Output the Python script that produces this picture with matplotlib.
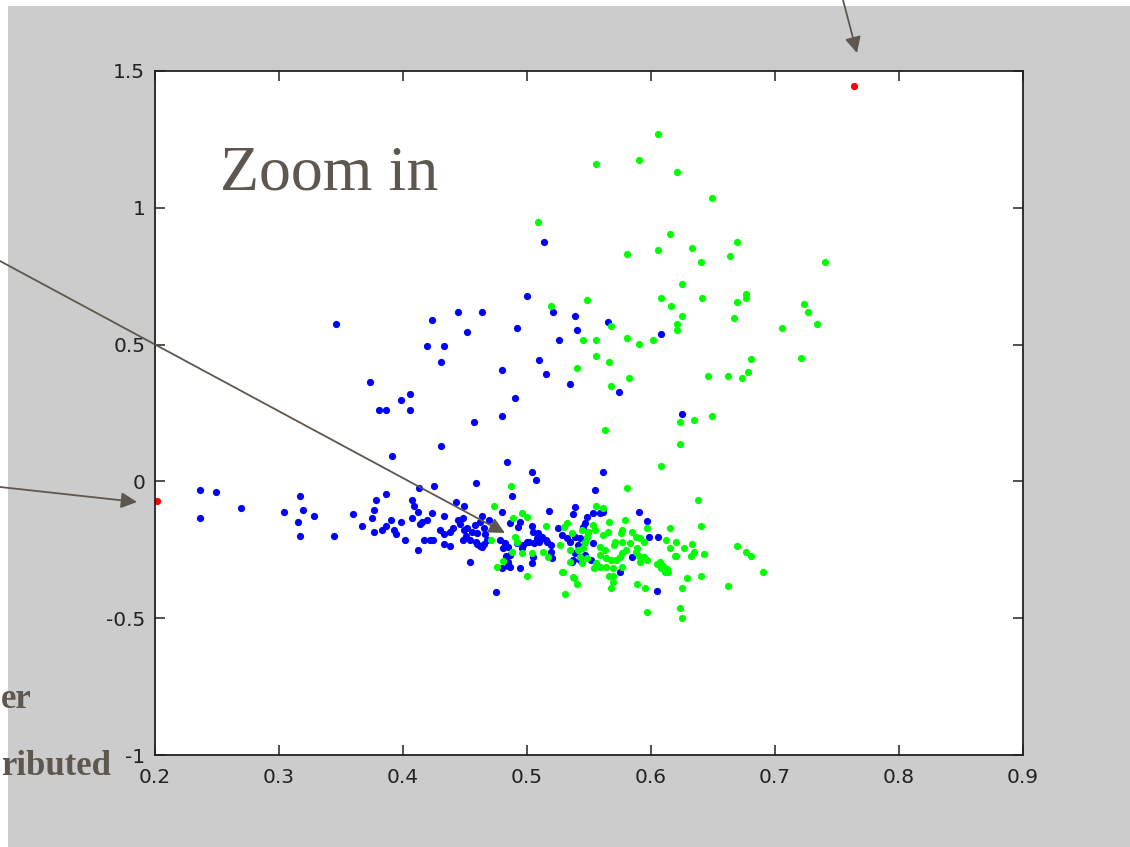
import matplotlib
matplotlib.use("Agg")
import matplotlib.pyplot as plt
from matplotlib.patches import Rectangle, FancyArrowPatch

# Point data (x = first feature, y = second feature)
blue_x = [
    0.346, 0.373, 0.398, 0.406, 0.381, 0.386, 0.406, 0.391, 0.419, 0.423, 0.433, 0.431,
    0.444, 0.452, 0.464, 0.431, 0.457, 0.459, 0.480, 0.480, 0.490, 0.484, 0.492, 0.500,
    0.504, 0.507, 0.510, 0.514, 0.515, 0.521, 0.526, 0.535, 0.539, 0.540, 0.561, 0.565,
    0.574, 0.608, 0.625, 0.555,
    0.236, 0.249, 0.236, 0.269, 0.304, 0.317, 0.319, 0.315, 0.328, 0.317, 0.344, 0.360,
    0.367, 0.375, 0.377, 0.378, 0.386, 0.377, 0.383, 0.386, 0.390, 0.393, 0.394, 0.398,
    0.402, 0.407, 0.409, 0.412, 0.407, 0.415, 0.414, 0.419, 0.423, 0.412, 0.417, 0.422,
    0.424, 0.413, 0.425, 0.433, 0.430, 0.433, 0.438, 0.440, 0.433, 0.438, 0.443, 0.449,
    0.444, 0.448, 0.446, 0.449, 0.452, 0.456, 0.451, 0.448, 0.454, 0.454, 0.464, 0.462,
    0.459, 0.462, 0.460, 0.465, 0.469, 0.465, 0.480, 0.488, 0.475, 0.480, 0.485, 0.483,
    0.494, 0.458, 0.460, 0.466, 0.468, 0.464,
    0.518, 0.539, 0.537, 0.548, 0.486, 0.494, 0.493, 0.504, 0.505, 0.509, 0.512, 0.508,
    0.515, 0.516, 0.510, 0.506, 0.502, 0.519, 0.525, 0.528, 0.532, 0.535, 0.539, 0.543,
    0.547, 0.541, 0.478, 0.482, 0.481, 0.485, 0.492, 0.496, 0.497, 0.500, 0.519, 0.520,
    0.505, 0.504, 0.539, 0.547, 0.543, 0.537, 0.486, 0.485, 0.486,
    0.553, 0.559, 0.561, 0.590, 0.597, 0.547, 0.545, 0.549, 0.598, 0.606, 0.553, 0.585,
    0.552, 0.575, 0.605, 0.536,
]
blue_y = [
    0.575, 0.363, 0.298, 0.319, 0.261, 0.261, 0.261, 0.093, 0.495, 0.590, 0.495, 0.436,
    0.619, 0.546, 0.619, 0.129, 0.217, -0.006, 0.407, 0.239, 0.305, 0.071, 0.561, 0.678,
    0.034, 0.005, 0.444, 0.875, 0.393, 0.619, 0.517, 0.356, 0.604, 0.553, 0.034, 0.583,
    0.327, 0.539, 0.246, -0.031,
    -0.031, -0.039, -0.134, -0.097, -0.112, -0.053, -0.104, -0.148, -0.126, -0.200, -0.200, -0.119,
    -0.163, -0.134, -0.104, -0.068, -0.046, -0.185, -0.178, -0.163, -0.141, -0.178, -0.192, -0.148,
    -0.214, -0.068, -0.090, -0.112, -0.134, -0.148, -0.156, -0.141, -0.115, -0.251, -0.214, -0.214,
    -0.214, -0.024, -0.017, -0.126, -0.178, -0.192, -0.185, -0.170, -0.229, -0.236, -0.075, -0.090,
    -0.141, -0.134, -0.156, -0.178, -0.170, -0.185, -0.200, -0.214, -0.214, -0.295, -0.126, -0.148,
    -0.221, -0.236, -0.229, -0.229, -0.141, -0.170, -0.112, -0.053, -0.404, -0.317, -0.309, -0.273,
    -0.317, -0.159, -0.189, -0.192, -0.214, -0.240,
    -0.108, -0.093, -0.119, -0.130, -0.152, -0.148, -0.167, -0.163, -0.185, -0.189, -0.203, -0.207,
    -0.214, -0.221, -0.221, -0.225, -0.221, -0.232, -0.170, -0.196, -0.207, -0.221, -0.203, -0.207,
    -0.221, -0.232, -0.214, -0.225, -0.243, -0.240, -0.225, -0.243, -0.232, -0.221, -0.258, -0.280,
    -0.276, -0.298, -0.262, -0.269, -0.287, -0.287, -0.269, -0.295, -0.313,
    -0.115, -0.115, -0.112, -0.112, -0.145, -0.152, -0.167, -0.185, -0.203, -0.203, -0.225, -0.276,
    -0.287, -0.331, -0.400, -0.295,
]

green_x = [
    0.509, 0.556, 0.590, 0.606, 0.621, 0.649, 0.615, 0.581, 0.606, 0.633, 0.640, 0.664,
    0.669, 0.740, 0.625, 0.519, 0.548, 0.545, 0.556, 0.568, 0.608, 0.616, 0.625, 0.621,
    0.621, 0.641, 0.669, 0.677, 0.677, 0.667, 0.581, 0.590, 0.602, 0.706, 0.723, 0.727,
    0.734, 0.556, 0.566, 0.681, 0.721, 0.540, 0.582, 0.568, 0.646, 0.662, 0.673, 0.678,
    0.563, 0.623, 0.635, 0.649, 0.623, 0.608, 0.581, 0.638, 0.487, 0.473, 0.640,
    0.489, 0.496, 0.500, 0.515, 0.532, 0.530, 0.536, 0.544, 0.549, 0.471, 0.490, 0.492,
    0.488, 0.496, 0.504, 0.513, 0.527, 0.535, 0.541, 0.545, 0.481, 0.476, 0.500, 0.517,
    0.529, 0.537, 0.535, 0.544, 0.548,
    0.556, 0.561, 0.579, 0.566, 0.615, 0.553, 0.555, 0.565, 0.561, 0.577, 0.576, 0.585,
    0.588, 0.591, 0.594, 0.597, 0.612, 0.620, 0.615, 0.548, 0.547, 0.571, 0.570, 0.559,
    0.563, 0.577, 0.583, 0.589, 0.588, 0.543, 0.559, 0.564, 0.568, 0.572, 0.575, 0.577,
    0.580, 0.556, 0.559, 0.564, 0.569, 0.577, 0.594, 0.591, 0.597, 0.607, 0.610, 0.613,
    0.614, 0.569, 0.620,
    0.633, 0.627, 0.635, 0.632, 0.643, 0.619, 0.590, 0.669, 0.677, 0.681, 0.690, 0.640,
    0.629, 0.625, 0.662, 0.623, 0.625, 0.597, 0.589, 0.595, 0.568, 0.569, 0.566, 0.605,
    0.608, 0.611, 0.528, 0.538, 0.540, 0.531, 0.554,
]
green_y = [
    0.948, 1.160, 1.175, 1.270, 1.131, 1.036, 0.904, 0.831, 0.846, 0.853, 0.802, 0.824,
    0.875, 0.802, 0.721, 0.641, 0.663, 0.517, 0.517, 0.568, 0.670, 0.641, 0.604, 0.575,
    0.553, 0.670, 0.656, 0.685, 0.670, 0.597, 0.524, 0.502, 0.517, 0.561, 0.648, 0.619,
    0.575, 0.458, 0.436, 0.447, 0.451, 0.414, 0.378, 0.349, 0.385, 0.385, 0.378, 0.400,
    0.188, 0.217, 0.224, 0.239, 0.137, 0.056, -0.024, -0.068, -0.017, -0.090, -0.163,
    -0.134, -0.115, -0.130, -0.163, -0.152, -0.167, -0.189, -0.178, -0.185, -0.214, -0.203, -0.221,
    -0.258, -0.262, -0.262, -0.258, -0.232, -0.251, -0.251, -0.243, -0.291, -0.313, -0.346, -0.276,
    -0.331, -0.349, -0.295, -0.298, -0.280,
    -0.090, -0.097, -0.141, -0.148, -0.170, -0.159, -0.178, -0.185, -0.196, -0.178, -0.189, -0.185,
    -0.203, -0.207, -0.221, -0.170, -0.214, -0.221, -0.243, -0.203, -0.221, -0.221, -0.232, -0.240,
    -0.251, -0.221, -0.225, -0.243, -0.258, -0.276, -0.269, -0.280, -0.287, -0.287, -0.276, -0.262,
    -0.251, -0.298, -0.313, -0.313, -0.317, -0.313, -0.276, -0.295, -0.287, -0.295, -0.309, -0.320,
    -0.331, -0.346, -0.273,
    -0.229, -0.243, -0.258, -0.273, -0.266, -0.273, -0.273, -0.236, -0.258, -0.273, -0.331, -0.346,
    -0.353, -0.390, -0.382, -0.463, -0.499, -0.477, -0.375, -0.390, -0.390, -0.368, -0.346, -0.302,
    -0.317, -0.331, -0.331, -0.353, -0.375, -0.412, -0.317,
]

# the two outliers
red_x = [0.202, 0.764]
red_y = [-0.072, 1.445]

x_ticks = [0.2, 0.3, 0.4, 0.5, 0.6, 0.7, 0.8, 0.9]
x_tick_labels = ["0.2", "0.3", "0.4", "0.5", "0.6", "0.7", "0.8", "0.9"]
y_ticks = [-1, -0.5, 0, 0.5, 1, 1.5]
y_tick_labels = ["-1", "-0.5", "0", "0.5", "1", "1.5"]

W, H = 1130, 847
SLIDE_GRAY = "#cccccc"
NOTE_COLOR = "#5e574f"

fig = plt.figure(figsize=(W / 100, H / 100), dpi=100, facecolor="white")

# slide background (thin white strip on the left and top)
fig.add_artist(Rectangle((8 / W, 0), 1, 1 - 6 / H, transform=fig.transFigure,
                         facecolor=SLIDE_GRAY, edgecolor="none", zorder=-10))

ax = fig.add_axes([155 / W, 92 / H, 868 / W, 684 / H])
ax.set_facecolor("white")

marker_kw = dict(linestyle="none", marker="o", markersize=5.2, markeredgewidth=0)
ax.plot(blue_x, blue_y, color="#0000ff", **marker_kw)
ax.plot(green_x, green_y, color="#00ff00", **marker_kw)
ax.plot(red_x, red_y, color="#ff0000", **marker_kw)

ax.set_xlim(0.2, 0.9)
ax.set_ylim(-1, 1.5)
ax.set_xticks(x_ticks)
ax.set_xticklabels(x_tick_labels)
ax.set_yticks(y_ticks)
ax.set_yticklabels(y_tick_labels)
ax.tick_params(direction="in", length=7, width=1.1, top=True, right=True,
               labelsize=14.5, labelcolor="#222222", color="#222222")
ax.tick_params(axis="x", pad=9)
ax.tick_params(axis="y", pad=7)
for spine in ax.spines.values():
    spine.set_linewidth(1.3)
    spine.set_color("#222222")

# slide annotations (the side notes are the tail ends of longer slide text)
fig.text(220 / W, 1 - 190 / H, "Zoom in", family="Liberation Serif", fontsize=46,
         color=NOTE_COLOR, va="baseline", ha="left", zorder=5)
fig.text(1 / W, 1 - 708 / H, "er", family="Liberation Serif", fontweight="bold",
         fontsize=25, color=NOTE_COLOR, va="baseline", ha="left", zorder=5)
fig.text(1 / W, 1 - 775 / H, "ributed", family="Liberation Serif", fontweight="bold",
         fontsize=25, color=NOTE_COLOR, va="baseline", ha="left", zorder=5)

arrows = [
    ((843, 0), (857, 53)),
    ((0, 261), (505, 533)),
    ((0, 487), (137, 502)),
]
for (x0, y0), (x1, y1) in arrows:
    fig.add_artist(FancyArrowPatch((x0 / W, 1 - y0 / H), (x1 / W, 1 - y1 / H),
                                   transform=fig.transFigure, arrowstyle="-|>",
                                   mutation_scale=24, linewidth=1.3,
                                   color=NOTE_COLOR, shrinkA=0, shrinkB=0, zorder=6))

fig.savefig("out.png", dpi=100, facecolor="white")
